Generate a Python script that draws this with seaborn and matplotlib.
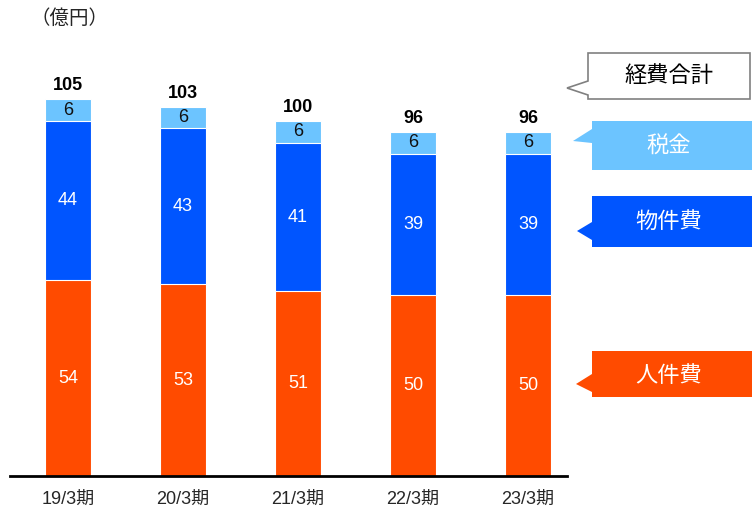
import matplotlib
matplotlib.use("Agg")
import matplotlib.pyplot as plt
from matplotlib.patches import Polygon
import numpy as np
import pandas as pd
import seaborn as sns

# Expense breakdown per fiscal period (unit: 100 million yen)
periods = ["19/3期", "20/3期", "21/3期", "22/3期", "23/3期"]
personnel = [54, 53, 51, 50, 50]      # 人件費
property_cost = [44, 43, 41, 39, 39]  # 物件費
taxes = [6, 6, 6, 6, 6]               # 税金
totals = [105, 103, 100, 96, 96]      # 経費合計

C_PERSONNEL = "#FF4B00"
C_PROPERTY = "#0055FF"
C_TAX = "#6CC4FF"

sns.set_style("white")
FONT = ["Liberation Sans", "Noto Sans CJK JP", "DejaVu Sans"]
plt.rcParams["font.family"] = FONT

W, H = 752, 511
fig = plt.figure(figsize=(W / 100, H / 100), dpi=100)

def fx(x):
    return x / W

def fy(y):
    return 1 - y / H

ax = fig.add_axes([fx(10), fy(476), fx(567) - fx(10), fy(40) - fy(476)])

df = pd.DataFrame({
    "period": periods,
    "personnel": personnel,
    "property": property_cost,
    "tax": taxes,
})
df["lvl2"] = df["personnel"] + df["property"]
df["lvl3"] = df["lvl2"] + df["tax"]

# stacked bars: draw cumulative heights from the top layer down
for col, color in [("lvl3", C_TAX), ("lvl2", C_PROPERTY), ("personnel", C_PERSONNEL)]:
    sns.barplot(data=df, x="period", y=col, color=color, width=0.4,
                edgecolor="white", linewidth=0.8, saturation=1, ax=ax)

for i in range(len(periods)):
    p, m, t = personnel[i], property_cost[i], taxes[i]
    ax.text(i, p / 2, f"{p}", ha="center", va="center", color="white", fontsize=13)
    ax.text(i, p + m / 2, f"{m}", ha="center", va="center", color="white", fontsize=13)
    ax.text(i, p + m + t / 2, f"{t}", ha="center", va="center", color="#111111", fontsize=13)
    ax.text(i, p + m + t + 1.4, f"{totals[i]}", ha="center", va="bottom",
            color="black", fontsize=13, fontweight="bold")

ax.set_xlim(-0.504, 4.339)
ax.set_ylim(0, 120.4)
ax.set_xlabel("")
ax.set_ylabel("")
ax.set_yticks([])
ax.tick_params(axis="x", length=0, pad=11, labelsize=13)
for lbl in ax.get_xticklabels():
    lbl.set_family(FONT)
for s in ["top", "left", "right"]:
    ax.spines[s].set_visible(False)
ax.spines["bottom"].set_color("black")
ax.spines["bottom"].set_linewidth(2)

fig.text(fx(70), fy(18), "（億円）", ha="center", va="center", fontsize=14,
         family=["Noto Sans CJK JP", "DejaVu Sans"])

# callout labels on the right
def callout(pts, face, edge, text, tcolor, cy):
    poly = Polygon([(fx(x), fy(y)) for x, y in pts], closed=True,
                   transform=fig.transFigure, facecolor=face, edgecolor=edge,
                   linewidth=1.2 if edge != "none" else 0)
    fig.add_artist(poly)
    fig.text(fx(669), fy(cy), text, ha="center", va="center", color=tcolor,
             fontsize=16, family=["Noto Sans CJK JP", "DejaVu Sans"])

callout([(588, 53), (750, 53), (750, 99), (588, 99), (588, 95), (567, 88), (588, 81)],
        "white", "#808080", "経費合計", "black", 76)
callout([(592, 121), (752, 121), (752, 170), (592, 170), (592, 143), (573, 141), (592, 129)],
        C_TAX, "none", "税金", "white", 146)
callout([(592, 196), (752, 196), (752, 247), (592, 247), (592, 240), (577, 231), (592, 222)],
        C_PROPERTY, "none", "物件費", "white", 221)
callout([(592, 351), (752, 351), (752, 397), (592, 397), (592, 392), (576, 384), (592, 374)],
        C_PERSONNEL, "none", "人件費", "white", 375)

fig.savefig("out.png", dpi=100)
